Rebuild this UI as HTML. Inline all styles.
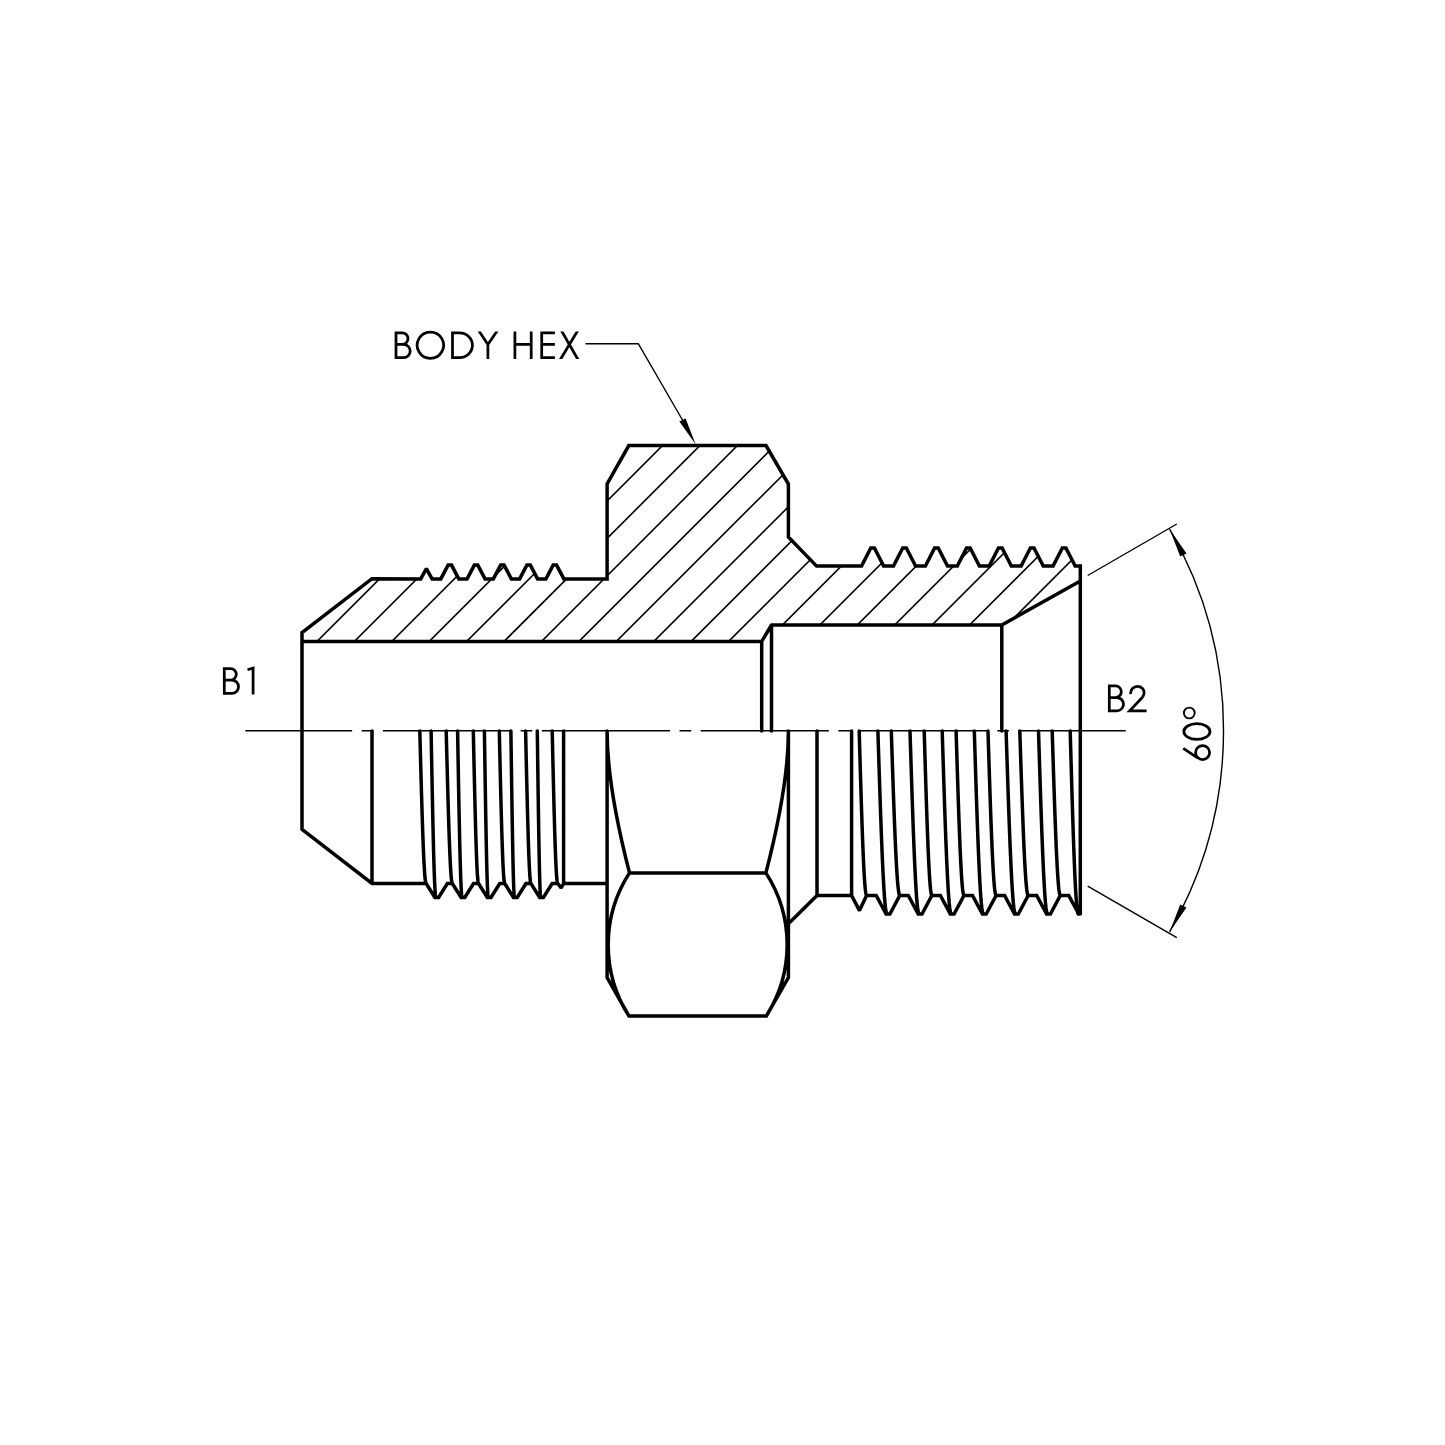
<!DOCTYPE html>
<html><head><meta charset="utf-8"><style>
html,body{margin:0;padding:0;background:#fff;width:1445px;height:1445px;overflow:hidden}
svg{display:block}
</style></head><body>
<svg width="1445" height="1445" viewBox="0 0 1445 1445">
<rect width="1445" height="1445" fill="#fff"/>
<defs><clipPath id="sec"><polygon points="302,641.4 302,632.5 372,578.7 420.7,578.9 426.4,568.6 432.1,578.9 440.8,578.9 448.1,565.1 451.5,565.1 458.8,578.9 467.07,578.9 474.37,565.1 477.77,565.1 485.07,578.9 493.34,578.9 500.64,565.1 504.04,565.1 511.34,578.9 519.61,578.9 526.91,565.1 530.31,565.1 537.61,578.9 545.88,578.9 553.18,565.1 556.58,565.1 563.88,578.9 607.1,578.9 607.1,484 628.8,445.6 766,445.6 788.4,484 788.4,537 816.6,566.1 861.55,566.1 870.8,547.9 874.4,547.9 883.65,566.1 893.47,566.1 902.72,547.9 906.32,547.9 915.57,566.1 925.39,566.1 934.64,547.9 938.24,547.9 947.49,566.1 957.31,566.1 966.56,547.9 970.16,547.9 979.41,566.1 989.23,566.1 998.48,547.9 1002.08,547.9 1011.33,566.1 1021.15,566.1 1030.4,547.9 1034,547.9 1043.25,566.1 1053.07,566.1 1062.32,547.9 1065.92,547.9 1075.17,566.1 1080.3,566.1 1080.3,581 1001.8,625 771.5,625 761.7,641.4"/></clipPath></defs>
<path clip-path="url(#sec)" d="M223.56,660L453.56,430M260.98,660L490.98,430M298.4,660L528.4,430M335.82,660L565.82,430M373.24,660L603.24,430M410.66,660L640.66,430M448.08,660L678.08,430M485.5,660L715.5,430M522.92,660L752.92,430M560.34,660L790.34,430M597.76,660L827.76,430M635.18,660L865.18,430M672.6,660L902.6,430M710.02,660L940.02,430M747.44,660L977.44,430M784.86,660L1014.86,430M822.28,660L1052.28,430M859.7,660L1089.7,430M897.12,660L1127.12,430M934.54,660L1164.54,430M971.96,660L1201.96,430M1009.38,660L1239.38,430M1046.8,660L1276.8,430M1084.22,660L1314.22,430M1121.64,660L1351.64,430M1159.06,660L1389.06,430M1196.48,660L1426.48,430M1233.9,660L1463.9,430M1271.32,660L1501.32,430M1308.74,660L1538.74,430M1346.16,660L1576.16,430M1383.58,660L1613.58,430" stroke="#000" stroke-width="1.6" fill="none"/>
<path d="M302,829.3 L302,632.5 L372,578.7 L420.7,578.9 L426.4,568.6 L432.1,578.9 L440.8,578.9 L448.1,565.1 L451.5,565.1 L458.8,578.9 L467.07,578.9 L474.37,565.1 L477.77,565.1 L485.07,578.9 L493.34,578.9 L500.64,565.1 L504.04,565.1 L511.34,578.9 L519.61,578.9 L526.91,565.1 L530.31,565.1 L537.61,578.9 L545.88,578.9 L553.18,565.1 L556.58,565.1 L563.88,578.9 L607.1,578.9 L607.1,484 L628.8,445.6 L766,445.6 L788.4,484 L788.4,537 L816.6,566.1 L861.55,566.1 L870.8,547.9 L874.4,547.9 L883.65,566.1 L893.47,566.1 L902.72,547.9 L906.32,547.9 L915.57,566.1 L925.39,566.1 L934.64,547.9 L938.24,547.9 L947.49,566.1 L957.31,566.1 L966.56,547.9 L970.16,547.9 L979.41,566.1 L989.23,566.1 L998.48,547.9 L1002.08,547.9 L1011.33,566.1 L1021.15,566.1 L1030.4,547.9 L1034,547.9 L1043.25,566.1 L1053.07,566.1 L1062.32,547.9 L1065.92,547.9 L1075.17,566.1 L1080.3,566.1 L1080.3,914 M302,641.4 H761.7 V731 M761.7,641.4 L771.5,625.0 V731 M771.5,625.0 H1001.8 V731 M1001.8,625.0 L1080.3,581 M302,829.3 L372,883.5 L426.15,883.5 L426.15,883.5 L434.9,897.5 L438.6,897.5 L447.35,883.5 L452.35,883.5 L461.1,897.5 L464.8,897.5 L473.55,883.5 L478.55,883.5 L487.3,897.5 L491,897.5 L499.75,883.5 L504.75,883.5 L513.5,897.5 L517.2,897.5 L525.95,883.5 L530.95,883.5 L539.7,897.5 L543.4,897.5 L552.15,883.5 L557.7,883.5 L561.2,887.8 L563.6,883.5 L607.1,883.5 M372,731 V883.5 M563.6,731 V883.5 M419.8,731 L420.15,744.29 L420.51,757.48 L420.86,770.47 L421.21,783.16 L421.56,795.45 L421.92,807.25 L422.27,818.47 L422.62,829.03 L422.98,838.83 L423.33,847.82 L423.68,855.92 L424.03,863.07 L424.39,869.21 L424.74,874.3 L425.09,878.3 L425.44,881.18 L425.8,882.92 L426.15,883.5 M446.2,731 L446.54,744.29 L446.88,757.48 L447.23,770.47 L447.57,783.16 L447.91,795.45 L448.25,807.25 L448.59,818.47 L448.93,829.03 L449.27,838.83 L449.62,847.82 L449.96,855.92 L450.3,863.07 L450.64,869.21 L450.98,874.3 L451.32,878.3 L451.67,881.18 L452.01,882.92 L452.35,883.5 M473.3,731 L473.59,744.29 L473.88,757.48 L474.18,770.47 L474.47,783.16 L474.76,795.45 L475.05,807.25 L475.34,818.47 L475.63,829.03 L475.93,838.83 L476.22,847.82 L476.51,855.92 L476.8,863.07 L477.09,869.21 L477.38,874.3 L477.68,878.3 L477.97,881.18 L478.26,882.92 L478.55,883.5 M499.3,731 L499.6,744.29 L499.91,757.48 L500.21,770.47 L500.51,783.16 L500.81,795.45 L501.12,807.25 L501.42,818.47 L501.72,829.03 L502.02,838.83 L502.33,847.82 L502.63,855.92 L502.93,863.07 L503.24,869.21 L503.54,874.3 L503.84,878.3 L504.14,881.18 L504.45,882.92 L504.75,883.5 M525.6,731 L525.9,744.29 L526.19,757.48 L526.49,770.47 L526.79,783.16 L527.09,795.45 L527.38,807.25 L527.68,818.47 L527.98,829.03 L528.28,838.83 L528.57,847.82 L528.87,855.92 L529.17,863.07 L529.46,869.21 L529.76,874.3 L530.06,878.3 L530.36,881.18 L530.65,882.92 L530.95,883.5 M552.2,731 L552.51,744.29 L552.81,757.48 L553.12,770.47 L553.42,783.16 L553.73,795.45 L554.03,807.25 L554.34,818.47 L554.64,829.03 L554.95,838.83 L555.26,847.82 L555.56,855.92 L555.87,863.07 L556.17,869.21 L556.48,874.3 L556.78,878.3 L557.09,881.18 L557.39,882.92 L557.7,883.5 M431.1,731 L431.37,745.51 L431.64,759.91 L431.91,774.09 L432.18,787.95 L432.45,801.37 L432.72,814.25 L432.99,826.5 L433.26,838.02 L433.52,848.73 L433.79,858.55 L434.06,867.39 L434.33,875.19 L434.6,881.9 L434.87,887.46 L435.14,891.83 L435.41,894.97 L435.68,896.87 L435.95,897.5 M457.6,731 L457.85,745.51 L458.11,759.91 L458.36,774.09 L458.61,787.95 L458.86,801.37 L459.12,814.25 L459.37,826.5 L459.62,838.02 L459.88,848.73 L460.13,858.55 L460.38,867.39 L460.63,875.19 L460.89,881.9 L461.14,887.46 L461.39,891.83 L461.64,894.97 L461.9,896.87 L462.15,897.5 M484.4,731 L484.62,745.51 L484.84,759.91 L485.06,774.09 L485.28,787.95 L485.5,801.37 L485.72,814.25 L485.94,826.5 L486.16,838.02 L486.38,848.73 L486.59,858.55 L486.81,867.39 L487.03,875.19 L487.25,881.9 L487.47,887.46 L487.69,891.83 L487.91,894.97 L488.13,896.87 L488.35,897.5 M510.9,731 L511.1,745.51 L511.31,759.91 L511.51,774.09 L511.71,787.95 L511.91,801.37 L512.12,814.25 L512.32,826.5 L512.52,838.02 L512.73,848.73 L512.93,858.55 L513.13,867.39 L513.33,875.19 L513.54,881.9 L513.74,887.46 L513.94,891.83 L514.14,894.97 L514.35,896.87 L514.55,897.5 M537.3,731 L537.49,745.51 L537.68,759.91 L537.88,774.09 L538.07,787.95 L538.26,801.37 L538.45,814.25 L538.64,826.5 L538.83,838.02 L539.02,848.73 L539.22,858.55 L539.41,867.39 L539.6,875.19 L539.79,881.9 L539.98,887.46 L540.17,891.83 L540.37,894.97 L540.56,896.87 L540.75,897.5 M607.1,731 V977.6 L628.9,1015.9 H766.4 L788.4,977.6 V731 M629.5,872.9 H765.9 M607.1,731 Q607.1,786 629.5,872.9 M788.4,731 Q788.4,786 765.9,872.9 M629.5,872.9 A132.2,132.2 0 0 0 628.9,1015.9 M765.9,872.9 A132.2,132.2 0 0 1 766.4,1015.9 M817,731 V895.5 L788.4,923.8 M817,895.5 H851.6 M851.6,731 V895.5 M851.6,895.5 L859.5,910.6 L866.6,895.5 L876.2,895.5 L886.1,914 L889.9,914 L899.8,895.5 L908.3,895.5 L918.2,914 L922,914 L931.9,895.5 L940.4,895.5 L950.3,914 L954.1,914 L964,895.5 L972.5,895.5 L982.4,914 L986.2,914 L996.1,895.5 L1004.6,895.5 L1014.5,914 L1018.3,914 L1028.2,895.5 L1036.7,895.5 L1046.6,914 L1050.4,914 L1060.3,895.5 L1068.7,895.5 L1078.8,914 L1080.3,914 M859.2,731 L859.61,745.34 L860.02,759.57 L860.43,773.58 L860.84,787.26 L861.26,800.52 L861.67,813.25 L862.08,825.35 L862.49,836.74 L862.9,847.32 L863.31,857.01 L863.72,865.75 L864.13,873.46 L864.54,880.09 L864.96,885.58 L865.37,889.89 L865.78,893 L866.19,894.87 L866.6,895.5 M891.3,731 L891.77,745.34 L892.24,759.57 L892.72,773.58 L893.19,787.26 L893.66,800.52 L894.13,813.25 L894.61,825.35 L895.08,836.74 L895.55,847.32 L896.02,857.01 L896.49,865.75 L896.97,873.46 L897.44,880.09 L897.91,885.58 L898.38,889.89 L898.86,893 L899.33,894.87 L899.8,895.5 M924.2,731 L924.63,745.34 L925.06,759.57 L925.48,773.58 L925.91,787.26 L926.34,800.52 L926.77,813.25 L927.19,825.35 L927.62,836.74 L928.05,847.32 L928.48,857.01 L928.91,865.75 L929.33,873.46 L929.76,880.09 L930.19,885.58 L930.62,889.89 L931.04,893 L931.47,894.87 L931.9,895.5 M956.1,731 L956.54,745.34 L956.98,759.57 L957.42,773.58 L957.86,787.26 L958.29,800.52 L958.73,813.25 L959.17,825.35 L959.61,836.74 L960.05,847.32 L960.49,857.01 L960.93,865.75 L961.37,873.46 L961.81,880.09 L962.24,885.58 L962.68,889.89 L963.12,893 L963.56,894.87 L964,895.5 M988,731 L988.45,745.34 L988.9,759.57 L989.35,773.58 L989.8,787.26 L990.25,800.52 L990.7,813.25 L991.15,825.35 L991.6,836.74 L992.05,847.32 L992.5,857.01 L992.95,865.75 L993.4,873.46 L993.85,880.09 L994.3,885.58 L994.75,889.89 L995.2,893 L995.65,894.87 L996.1,895.5 M1019.8,731 L1020.27,745.34 L1020.73,759.57 L1021.2,773.58 L1021.67,787.26 L1022.13,800.52 L1022.6,813.25 L1023.07,825.35 L1023.53,836.74 L1024,847.32 L1024.47,857.01 L1024.93,865.75 L1025.4,873.46 L1025.87,880.09 L1026.33,885.58 L1026.8,889.89 L1027.27,893 L1027.73,894.87 L1028.2,895.5 M1052.2,731 L1052.65,745.34 L1053.1,759.57 L1053.55,773.58 L1054,787.26 L1054.45,800.52 L1054.9,813.25 L1055.35,825.35 L1055.8,836.74 L1056.25,847.32 L1056.7,857.01 L1057.15,865.75 L1057.6,873.46 L1058.05,880.09 L1058.5,885.58 L1058.95,889.89 L1059.4,893 L1059.85,894.87 L1060.3,895.5 M877.9,731 L878.41,746.95 L878.91,762.78 L879.42,778.36 L879.92,793.59 L880.43,808.34 L880.93,822.5 L881.44,835.96 L881.94,848.63 L882.45,860.4 L882.96,871.19 L883.46,880.9 L883.97,889.48 L884.47,896.85 L884.98,902.96 L885.48,907.76 L885.99,911.22 L886.49,913.3 L887,914 M910,731 L910.51,746.95 L911.01,762.78 L911.52,778.36 L912.02,793.59 L912.53,808.34 L913.03,822.5 L913.54,835.96 L914.04,848.63 L914.55,860.4 L915.06,871.19 L915.56,880.9 L916.07,889.48 L916.57,896.85 L917.08,902.96 L917.58,907.76 L918.09,911.22 L918.59,913.3 L919.1,914 M942.2,731 L942.7,746.95 L943.2,762.78 L943.7,778.36 L944.2,793.59 L944.7,808.34 L945.2,822.5 L945.7,835.96 L946.2,848.63 L946.7,860.4 L947.2,871.19 L947.7,880.9 L948.2,889.48 L948.7,896.85 L949.2,902.96 L949.7,907.76 L950.2,911.22 L950.7,913.3 L951.2,914 M974.3,731 L974.8,746.95 L975.3,762.78 L975.8,778.36 L976.3,793.59 L976.8,808.34 L977.3,822.5 L977.8,835.96 L978.3,848.63 L978.8,860.4 L979.3,871.19 L979.8,880.9 L980.3,889.48 L980.8,896.85 L981.3,902.96 L981.8,907.76 L982.3,911.22 L982.8,913.3 L983.3,914 M1006.1,731 L1006.62,746.95 L1007.13,762.78 L1007.65,778.36 L1008.17,793.59 L1008.68,808.34 L1009.2,822.5 L1009.72,835.96 L1010.23,848.63 L1010.75,860.4 L1011.27,871.19 L1011.78,880.9 L1012.3,889.48 L1012.82,896.85 L1013.33,902.96 L1013.85,907.76 L1014.37,911.22 L1014.88,913.3 L1015.4,914 M1038.5,731 L1039,746.95 L1039.5,762.78 L1040,778.36 L1040.5,793.59 L1041,808.34 L1041.5,822.5 L1042,835.96 L1042.5,848.63 L1043,860.4 L1043.5,871.19 L1044,880.9 L1044.5,889.48 L1045,896.85 L1045.5,902.96 L1046,907.76 L1046.5,911.22 L1047,913.3 L1047.5,914 M1070.2,731 L1070.65,746.95 L1071.1,762.78 L1071.55,778.36 L1072,793.59 L1072.45,808.34 L1072.9,822.5 L1073.35,835.96 L1073.8,848.63 L1074.25,860.4 L1074.7,871.19 L1075.15,880.9 L1075.6,889.48 L1076.05,896.85 L1076.5,902.96 L1076.95,907.76 L1077.4,911.22 L1077.85,913.3 L1078.3,914" stroke="#000" stroke-width="3.5" fill="none" stroke-linejoin="miter" stroke-miterlimit="1.5" stroke-linecap="round"/>
<path d="M245.4,730.8 H1125.7" stroke="#000" stroke-width="1.5" fill="none" stroke-dasharray="128.1 9.6 11.6 9.6" stroke-dashoffset="21.35"/>
<path d="M585.5,343.7 H638.3 L684.8,424" stroke="#000" stroke-width="1.4" fill="none"/>
<path d="M695.6,444.2 L679.4,421.4 L685.6,418.5 Z" fill="#000"/>
<path d="M1087.7,575.5 L1176.8,524 M1087.7,886.2 L1176.8,937.6" stroke="#000" stroke-width="1.4" fill="none"/>
<path d="M1169.6,529.1 A403,403 0 0 1 1169.6,931.9" stroke="#000" stroke-width="1.4" fill="none"/>
<path d="M1169.6,529.1 L1180.2,556.5 L1186.5,553.4 Z M1169.6,931.9 L1180.2,904.5 L1186.5,907.6 Z" fill="#000"/>
<path d="M396,344.4 H402.2 A5.8,5.8 0 0 0 402.2,332.8 H396 V357.7 H403.55 A6.65,6.65 0 0 0 403.55,344.4 H396 M430.4,332.0 A13.2,13.2 0 1 1 430.39,332.0 Z M452.5,332.8 V357.7 H459.6 A12.8,12.45 0 0 0 459.6,332.8 Z M514.9,331.6 V358.9 M531.2,331.6 V358.9 M514.9,344.4 H531.2 M554.9,332.8 H541.7 V357.7 H554.9 M541.7,344.4 H554.9 M224.3,680.1 H230.5 A5.8,5.8 0 0 0 230.5,668.5 H224.3 V693.4 H231.85 A6.65,6.65 0 0 0 231.85,680.1 H224.3 M247.5,669.8 L253.1,668.1 V694.6 M1109.3,697.5 H1115.5 A5.8,5.8 0 0 0 1115.5,685.9 H1109.3 V710.8 H1116.85 A6.65,6.65 0 0 0 1116.85,697.5 H1109.3 M1130.6,694.2 C1130.3,689.5 1133.5,686.3 1137.5,686.3 C1141.5,686.3 1144.1,689.3 1144.1,692.6 C1144.1,694.9 1143.2,696.5 1141.8,698 L1129.6,710.9 H1146.6" stroke="#000" stroke-width="2.75" fill="none" stroke-linejoin="miter"/>
<defs><clipPath id="capclip"><rect x="470" y="331.5" width="120" height="27.5"/></clipPath></defs>
<path clip-path="url(#capclip)" d="M477.2,328.2 L487.9,344.6 L498.9,328.2 M487.9,344.4 V358.9 M559.9,328.0 L579.7,362.5 M579.3,328.0 L558.6,362.5" stroke="#000" stroke-width="2.75" fill="none"/>
<ellipse cx="1196.9" cy="731.6" rx="13.1" ry="7.9" stroke="#000" stroke-width="2.75" fill="none"/>
<circle cx="1202.6" cy="752.6" r="7.0" stroke="#000" stroke-width="2.75" fill="none"/>
<path d="M1183.3,748.4 L1197.6,757.9" stroke="#000" stroke-width="2.75" fill="none"/>
<circle cx="1189.3" cy="713.0" r="5.4" stroke="#000" stroke-width="1.9" fill="none"/>
</svg>
</body></html>
